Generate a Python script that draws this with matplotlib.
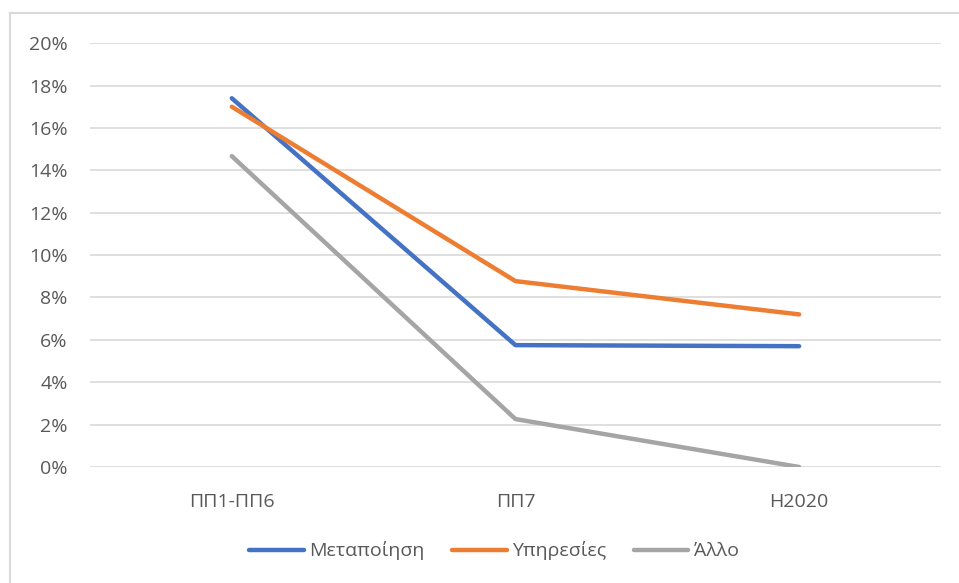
import matplotlib.pyplot as plt
from matplotlib.lines import Line2D
from matplotlib.ticker import PercentFormatter

plt.rcParams['font.family'] = ['Open Sans', 'DejaVu Sans']

periods = ['ΠΠ1-ΠΠ6', 'ΠΠ7', 'H2020']
metapoiisi = [17.4, 5.75, 5.7]
ypiresies = [17.0, 8.77, 7.2]
allo = [14.67, 2.26, 0.0]

series = [
    ('Μεταποίηση', metapoiisi, '#4472c4'),
    ('Υπηρεσίες', ypiresies, '#ed7d31'),
    ('Άλλο', allo, '#a5a5a5'),
]

fig = plt.figure(figsize=(9.59, 5.83), dpi=100)
ax = fig.add_axes([0.0938, 0.199, 0.8874, 0.727])

x = range(len(periods))
for name, vals, col in series:
    ax.plot(x, vals, color=col, lw=3.2, label=name, solid_capstyle='round', zorder=3)

ax.set_xlim(-0.5, 2.5)
ax.set_ylim(0, 20)
ax.set_yticks(range(0, 21, 2))
ax.yaxis.set_major_formatter(PercentFormatter(decimals=0))
ax.set_xticks(list(x))
ax.set_xticklabels(periods)
ax.grid(axis='y', color='#d9d9d9', lw=1.2)
ax.set_axisbelow(True)
for s in ax.spines.values():
    s.set_visible(False)
ax.tick_params(length=0, labelsize=14, colors='#595959')
ax.tick_params(axis='y', pad=16)
ax.tick_params(axis='x', pad=19)

leg = ax.legend(loc='center', bbox_to_anchor=(0.475, -0.198), ncol=3, frameon=False,
                fontsize=14, handlelength=2.8, handletextpad=0.3, columnspacing=1.4)
for t in leg.get_texts():
    t.set_color('#595959')

# chart border
fig.add_artist(Line2D([10/959, 10/959], [0, 1 - 13/583], color='#d9d9d9', lw=1.5))
fig.add_artist(Line2D([10/959, 1], [1 - 13/583, 1 - 13/583], color='#d9d9d9', lw=1.5))

fig.savefig('out.png', dpi=100)
